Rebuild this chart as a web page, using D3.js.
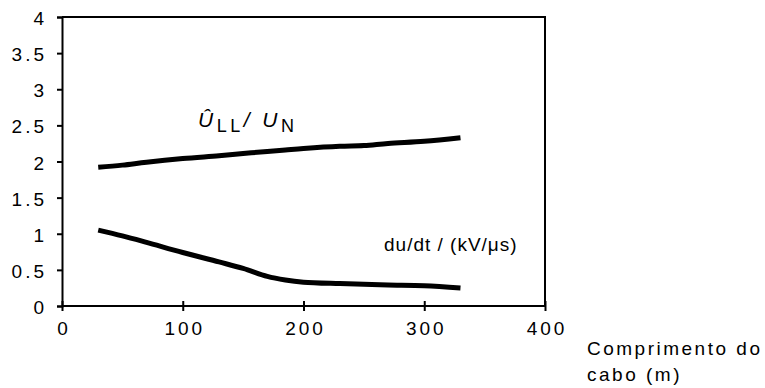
<!DOCTYPE html>
<html>
<head>
<meta charset="utf-8">
<script src="https://cdn.jsdelivr.net/npm/d3@7"></script>
<style>
  body { margin: 0; background: #fff; }
  text { font-family: "Liberation Sans", Arial, sans-serif; fill: #000; }
</style>
</head>
<body>
<svg id="chart" width="765" height="388"></svg>
<script>
// cable length (m)
var lengths = [30, 50, 70, 100, 130, 150, 170, 185, 200, 230, 250, 270, 300, 330];
// peak line-to-line voltage / nominal
var ratioVals = [1.92, 1.95, 1.99, 2.04, 2.08, 2.11, 2.14, 2.16, 2.18, 2.21, 2.22, 2.25, 2.28, 2.33];
// du/dt in kV/us
var dudtVals = [1.05, 0.97, 0.88, 0.74, 0.61, 0.52, 0.41, 0.36, 0.33, 0.31, 0.30, 0.29, 0.28, 0.25];
var xTicks = [0, 100, 200, 300, 400];
var yTicks = [0, 0.5, 1, 1.5, 2, 2.5, 3, 3.5, 4];

var margin = {top: 17, right: 220, bottom: 82, left: 62};
var width = 765 - margin.left - margin.right;
var height = 388 - margin.top - margin.bottom;

var svg = d3.select("#chart");
var g = svg.append("g")
  .attr("transform", "translate(" + margin.left + "," + margin.top + ")");

var x = d3.scaleLinear().domain([0, 400]).range([0, width]);
var y = d3.scaleLinear().domain([0, 4]).range([height, 0]);

// frame (top + right)
g.append("path")
  .attr("d", "M0," + y(4) + "H" + x(400) + "V" + height)
  .attr("fill", "none").attr("stroke", "#000").attr("stroke-width", 2);

// y axis
var yAxis = g.append("g")
  .call(d3.axisLeft(y).tickValues(yTicks).tickSize(5).tickPadding(10)
    .tickFormat(d3.format("")));
yAxis.select(".domain").attr("stroke-width", 2);
yAxis.selectAll(".tick line").attr("stroke-width", 2);
yAxis.selectAll("text").attr("font-family", null)
  .style("font-size", "19px").style("letter-spacing", "3px").attr("dy", "0.4em");

// x axis, ticks cross the line
var xAxis = g.append("g")
  .attr("transform", "translate(0," + height + ")")
  .call(d3.axisBottom(x).tickValues(xTicks).tickSize(5).tickSizeOuter(0).tickPadding(11));
xAxis.select(".domain").attr("stroke-width", 2).attr("d", "M0,0H" + width);
xAxis.selectAll(".tick line").attr("y1", -5).attr("y2", 5).attr("stroke-width", 2);
xAxis.selectAll("text").attr("font-family", null)
  .style("font-size", "19px").style("letter-spacing", "3px").attr("dx", 1.5);

var line = function(vals) {
  return d3.line()
    .x(function(d, i) { return x(lengths[i]); })
    .y(function(d) { return y(d); })
    .curve(d3.curveCatmullRom)(vals);
};

g.append("path").attr("d", line(ratioVals))
  .attr("fill", "none").attr("stroke", "#000").attr("stroke-width", 5);
g.append("path").attr("d", line(dudtVals))
  .attr("fill", "none").attr("stroke", "#000").attr("stroke-width", 5);

// series labels
var lab1 = svg.append("text").attr("x", 198).attr("y", 127)
  .style("font-size", "21px").style("letter-spacing", "3.5px");
lab1.append("tspan").style("font-style", "italic").text("Û");
lab1.append("tspan").attr("dy", 5).style("font-size", "18px").text("LL");
lab1.append("tspan").attr("dy", -5).style("font-style", "italic").text("/ U");
lab1.append("tspan").attr("dy", 5).style("font-size", "18px").text("N");

svg.append("text").attr("x", 384).attr("y", 251).style("font-size", "19px")
  .style("letter-spacing", "1px")
  .text("du/dt / (kV/\u03bcs)");

// x axis title
var xt = svg.append("text").attr("x", 587).attr("y", 355).style("font-size", "19px")
  .style("letter-spacing", "2.5px");
xt.append("tspan").text("Comprimento do");
xt.append("tspan").attr("x", 587).attr("dy", 26).text("cabo (m)");
</script>
</body>
</html>
